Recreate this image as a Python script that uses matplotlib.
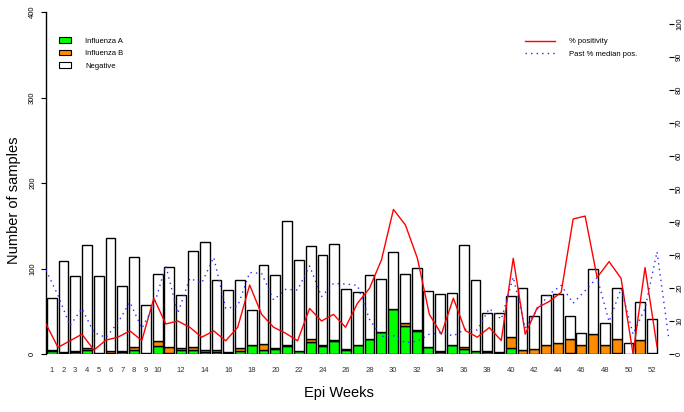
import matplotlib
matplotlib.use("Agg")
import matplotlib.pyplot as plt
from matplotlib.patches import Patch
from matplotlib.lines import Line2D
import numpy as np

plt.rcParams['font.family'] = ['Liberation Sans', 'DejaVu Sans']

weeks = list(range(1, 53))
flu_a = [3, 1, 2, 5, 0, 1, 2, 5, 0, 9, 1, 5, 5, 2, 2, 1, 3, 10, 5, 6, 9, 3, 14, 9, 15, 5,
         10, 17, 26, 53, 33, 27, 8, 2, 11, 6, 3, 2, 1, 7, 0, 0, 0, 0, 1, 0, 0, 0, 1, 0, 0, 0]
flu_b = [2, 1, 2, 2, 1, 3, 1, 3, 1, 6, 7, 2, 3, 3, 3, 1, 4, 1, 7, 1, 1, 1, 3, 2, 1, 1,
         0, 1, 0, 0, 3, 1, 0, 1, 0, 2, 1, 1, 1, 13, 5, 6, 10, 13, 17, 10, 23, 10, 17, 0, 16, 1]
negative = [60, 107, 87, 120, 90, 132, 77, 106, 56, 79, 94, 62, 112, 126, 81, 73, 80, 41, 92, 85,
            145, 106, 109, 105, 113, 70, 63, 74, 62, 66, 58, 73, 66, 67, 60, 119, 82, 45, 46, 48,
            72, 38, 59, 57, 26, 14, 76, 26, 59, 13, 45, 40]
pct_positivity = [9.1, 2.0, 4.0, 6.0, 1.2, 4.2, 5.1, 7.0, 4.1, 16.9, 9.1, 10.0, 8.1, 5.1, 7.0, 4.0,
                  8.1, 20.9, 12.0, 8.1, 6.3, 4.0, 13.8, 10.0, 12.0, 8.1, 15.4, 19.9, 28.5, 43.8,
                  39.1, 29.0, 12.0, 6.0, 16.9, 7.1, 5.1, 8.0, 4.1, 29.0, 6.0, 14.0, 15.9, 18.7,
                  40.9, 41.8, 23.2, 28.0, 22.9, 0.0, 26.2, 2.2]
past_median = [25.4, 17.8, 8.6, 13.8, 6.5, 5.0, 9.5, 15.7, 7.8, 14.5, 26.8, 12.3, 22.9, 21.5, 29.3,
               13.8, 14.5, 24.7, 24.4, 16.4, 19.6, 19.4, 26.7, 17.4, 21.4, 21.2, 20.8, 10.5, 5.3,
               5.6, 3.4, 3.9, 6.0, 6.5, 5.5, 7.5, 7.3, 13.8, 10.5, 23.3, 7.8, 13.5, 18.1, 20.8,
               15.4, 19.2, 23.2, 9.8, 19.8, 6.0, 13.8, 31.0, 4.2]
median_weeks = list(range(1, 54))
xtick_weeks = [1, 2, 3, 4, 5, 6, 7, 8, 9, 10] + list(range(12, 53, 2))

W, H, DPI = 684, 412, 100
fig = plt.figure(figsize=(W / DPI, H / DPI), dpi=DPI)
L, R, B, T = 46, 669, 354, 12
pos = [L / W, 1 - B / H, (R - L) / W, (B - T) / H]

# bars axis
ax = fig.add_axes(pos)
fa = np.array(flu_a); fb = np.array(flu_b); ng = np.array(negative)
xc = 0.7 + 1.2 * (np.array(weeks) - 1)
kw = dict(width=1.0, edgecolor='black', linewidth=1.0)
ax.bar(xc, fa, color='#00FF00', **kw)
ax.bar(xc, fb, bottom=fa, color='#FF8C00', **kw)
ax.bar(xc, ng, bottom=fa + fb, color='white', **kw)
ax.set_xlim(0.12, 63.63)
ax.set_ylim(0, 400)
for s in ['top', 'right', 'bottom']:
    ax.spines[s].set_visible(False)
ax.spines['left'].set_bounds(0, 400)
ax.spines['left'].set_linewidth(1.0)
ax.set_yticks([0, 100, 200, 300, 400])
ax.set_yticklabels(['0', '100', '200', '300', '400'], rotation=90, va='center', fontsize=5.5)
ax.tick_params(axis='y', length=3.6, width=0.8, pad=3.5)
ax.set_xticks(0.7 + 1.2 * (np.array(xtick_weeks) - 1))
ax.set_xticklabels([str(w) for w in xtick_weeks], fontsize=5.5, color='#333333')
ax.tick_params(axis='x', length=0, pad=9)

# line axis
ax2 = fig.add_axes(pos, frameon=False)
ax2.plot(weeks, pct_positivity, color='red', lw=1.0)
ax2.plot(median_weeks, past_median, color='#2a2aff', lw=1.0, linestyle=(0, (1, 3)))
ax2.set_xlim(1, 53)
ax2.set_ylim(0, 100 * (B - T) / (B - 24))
ax2.set_xticks([])
ax2.yaxis.tick_right()
ax2.spines['right'].set_visible(True)
ax2.spines['right'].set_bounds(0, 100)
ax2.spines['right'].set_linewidth(1.0)
for s in ['top', 'left', 'bottom']:
    ax2.spines[s].set_visible(False)
ax2.set_yticks(range(0, 101, 10))
ax2.set_yticklabels([str(v) for v in range(0, 101, 10)], rotation=90, va='center', fontsize=5.5)
ax2.tick_params(axis='y', length=3.6, width=0.8, pad=1.5)

# axis titles
fig.text(14 / W, 1 - 200 / H, 'Number of samples', rotation=90, ha='center', va='center', fontsize=10.5)
fig.text(339 / W, 1 - 393 / H, 'Epi Weeks', ha='center', va='center', fontsize=10.5)

# legends
h1 = [Patch(facecolor='#00FF00', edgecolor='black', lw=0.8, label='Influenza A'),
      Patch(facecolor='#FF8C00', edgecolor='black', lw=0.8, label='Influenza B'),
      Patch(facecolor='white', edgecolor='black', lw=0.8, label='Negative')]
fig.legend(handles=h1, loc='upper left', bbox_to_anchor=(59 / W, 1 - 37 / H),
           frameon=False, fontsize=5.5, handlelength=1.6, handleheight=0.8,
           handletextpad=1.8, labelspacing=0.65, borderpad=0, borderaxespad=0)
h2 = [Line2D([], [], color='red', lw=1.0, label='% positivity'),
      Line2D([], [], color='#2a2aff', lw=1.0, linestyle=(0, (1, 3)), label='Past % median pos.')]
fig.legend(handles=h2, loc='upper left', bbox_to_anchor=(525 / W, 1 - 38 / H),
           frameon=False, fontsize=5.5, handlelength=3.9, handletextpad=1.8,
           labelspacing=0.65, borderpad=0, borderaxespad=0)

fig.savefig('out.png', dpi=DPI)
